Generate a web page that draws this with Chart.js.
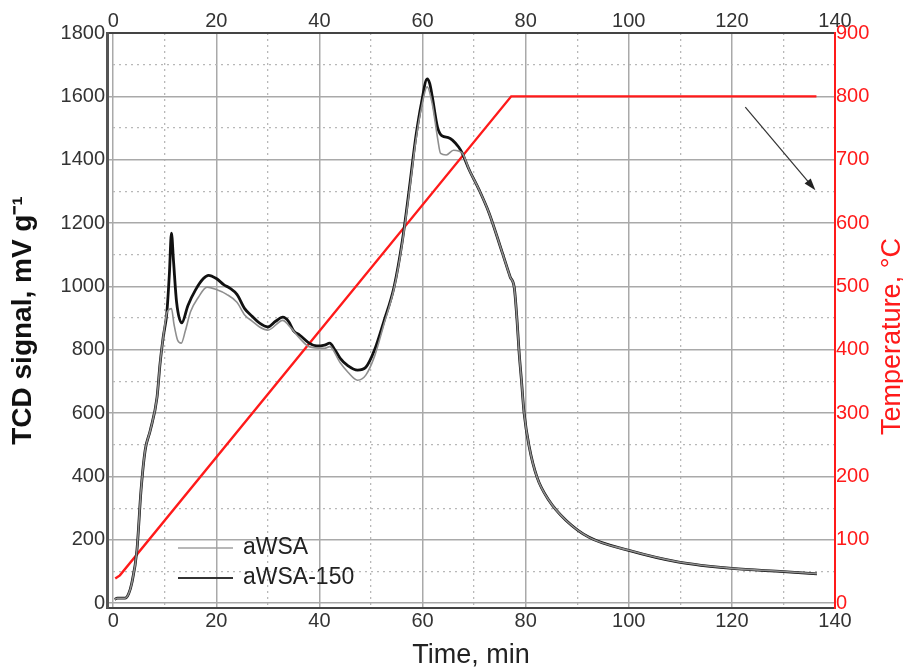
<!DOCTYPE html>
<html>
<head>
<meta charset="utf-8">
<script src="https://cdn.jsdelivr.net/npm/chart.js@4.4.1/dist/chart.umd.min.js"></script>
<style>
  body { margin: 0; background: #fff; }
  #wrap { width: 903px; height: 671px; }
</style>
</head>
<body>
<div id="wrap"><canvas id="tpd"></canvas></div>
<script>
// aWSA-150 (black curve)
const timeA150 = [0.3, 0.8, 2.3, 3.0, 3.6, 4.6, 5.4, 6.2, 7.2, 8.5, 9.1, 9.7, 10.4, 10.9, 11.3, 11.7, 12.3, 13.3,
  14.5, 16, 17.5, 18.5, 20, 21.5, 22.6, 24, 25.5, 27, 28.4, 30, 31.5, 32.9, 34, 35, 36.2, 38, 39.5, 41, 42, 43, 44,
  45.5, 47.4, 49, 50.7, 52.5, 54.5, 56.1, 57.4, 58.7, 59.8, 60.9, 61.4, 61.9, 62.9, 63.8, 65, 65.8, 67, 67.7, 69,
  71, 72.9, 75.5, 77, 77.8, 78.3, 78.7, 79.2, 79.7, 80.7, 82.2, 84.5, 87.8, 92.3, 100, 109.7, 120, 130, 136.5];
const signalA150 = [12, 16, 16, 30, 63, 167, 357, 483, 546, 650, 758, 840, 916, 1040, 1168, 1080, 950, 885,
  940, 990, 1025, 1035, 1025, 1005, 995, 975, 930, 905, 884, 872, 890, 903, 890, 860, 846, 821, 812, 815, 821, 800, 774,
  750, 736, 745, 800, 890, 1000, 1146, 1304, 1472, 1580, 1655, 1640, 1598, 1503, 1475, 1470, 1462, 1440, 1421, 1370,
  1304, 1232, 1105, 1030, 995, 900, 799, 700, 600, 493, 398, 325, 262, 208, 167, 130, 110, 100, 93];

// aWSA (grey curve)
const timeA = [0.3, 0.8, 2.3, 3.0, 3.6, 4.6, 5.4, 6.2, 7.2, 8.5, 9.1, 9.7, 10.4, 10.7, 11.3, 11.8, 12.5, 13.2, 14,
  15, 16.5, 18.2, 20, 22, 24, 25.5, 27, 28.4, 30, 32.9, 34, 36.2, 38, 41, 42, 44, 45.5, 47.4, 49, 50.7, 52.5, 54.5,
  56.1, 57.4, 58.7, 59.8, 60.9, 61.9, 62.9, 63.5, 64.6, 66, 67.7, 69, 71, 72.9, 75.5, 77, 77.8, 78.3, 78.7, 79.2,
  79.7, 80.7, 82.2, 84.5, 87.8, 92.3, 100, 109.7, 120, 130, 136.5];
const signalA = [12, 16, 16, 30, 63, 167, 357, 483, 546, 650, 758, 840, 916, 925, 930, 880, 830, 821, 860,
  920, 965, 998, 990, 975, 950, 910, 890, 872, 862, 893, 878, 836, 810, 805, 810, 760, 730, 704, 720, 780, 880, 995,
  1140, 1295, 1460, 1565, 1630, 1575, 1470, 1420, 1415, 1430, 1421, 1370, 1304, 1232, 1105, 1030, 995, 900, 799, 700,
  600, 493, 398, 325, 262, 208, 167, 130, 110, 100, 93];

// heating programme
const timeTemp = [0.4, 1.3, 77.2, 136.4];
const tempC = [39, 44, 800, 800];

// tick values
const timeTicks = [0, 20, 40, 60, 80, 100, 120, 140];
const timeMinor = [10, 30, 50, 70, 90, 110, 130];
const signalTicks = [0, 200, 400, 600, 800, 1000, 1200, 1400, 1600, 1800];
const signalMinor = [100, 300, 500, 700, 900, 1100, 1300, 1500, 1700];
const tempTicks = [0, 100, 200, 300, 400, 500, 600, 700, 800, 900];

// arrow towards the temperature axis (time, °C)
const arrowFrom = [122.6, 783];
const arrowTo = [136.2, 652];

const FONT = "'Liberation Sans', Arial, Helvetica, sans-serif";
const toXY = (xs, ys) => xs.map((x, i) => ({ x: x, y: ys[i] }));
const useTicks = vals => s => { s.ticks = vals.map(v => ({ value: v })); };

const tickFont = { family: FONT, size: 20 };
const majorGrid = '#a9a9a9';
const minorGrid = '#b8b8b8';
const RED = '#ff1a1a';

// legend drawn inside the plot, lower left
const innerLegend = {
  id: 'innerLegend',
  afterDatasetsDraw(chart) {
    const { ctx, chartArea } = chart;
    const items = chart.data.datasets.filter(d => d.inLegend);
    ctx.save();
    ctx.font = '23px ' + FONT;
    ctx.textBaseline = 'middle';
    items.forEach((d, i) => {
      const y = chartArea.bottom - 60 + i * 30;
      const x0 = chartArea.left + 71;
      ctx.strokeStyle = d.legendColor;
      ctx.lineWidth = d.legendWidth;
      ctx.beginPath();
      ctx.moveTo(x0, y);
      ctx.lineTo(x0 + 55, y);
      ctx.stroke();
      ctx.fillStyle = '#222';
      ctx.fillText(d.label, x0 + 65, y);
    });
    ctx.restore();
  }
};

// arrow + right axis title (reads bottom to top)
const extras = {
  id: 'extras',
  afterDraw(chart) {
    const { ctx, chartArea, scales } = chart;
    const x1 = scales.x.getPixelForValue(arrowFrom[0]);
    const y1 = scales.y2.getPixelForValue(arrowFrom[1]);
    const x2 = scales.x.getPixelForValue(arrowTo[0]);
    const y2 = scales.y2.getPixelForValue(arrowTo[1]);
    const ang = Math.atan2(y2 - y1, x2 - x1);
    ctx.save();
    ctx.strokeStyle = '#333';
    ctx.fillStyle = '#222';
    ctx.lineWidth = 1.2;
    ctx.beginPath();
    ctx.moveTo(x1, y1);
    ctx.lineTo(x2 - 8 * Math.cos(ang), y2 - 8 * Math.sin(ang));
    ctx.stroke();
    ctx.beginPath();
    ctx.moveTo(x2, y2);
    ctx.lineTo(x2 - 12 * Math.cos(ang) + 4 * Math.sin(ang), y2 - 12 * Math.sin(ang) - 4 * Math.cos(ang));
    ctx.lineTo(x2 - 12 * Math.cos(ang) - 4 * Math.sin(ang), y2 - 12 * Math.sin(ang) + 4 * Math.cos(ang));
    ctx.closePath();
    ctx.fill();

    ctx.translate(chart.width - 10, (chartArea.top + chartArea.bottom) / 2 + 16);
    ctx.rotate(-Math.PI / 2);
    ctx.font = '27px ' + FONT;
    ctx.fillStyle = RED;
    ctx.textAlign = 'center';
    ctx.textBaseline = 'middle';
    ctx.fillText('Temperature, °C', 0, 0);
    ctx.restore();
  }
};

new Chart(document.getElementById('tpd'), {
  type: 'line',
  data: {
    datasets: [
      {
        label: 'aWSA',
        data: toXY(timeA, signalA),
        borderColor: '#8f8f8f',
        borderWidth: 1.6,
        yAxisID: 'y',
        cubicInterpolationMode: 'monotone',
        inLegend: true,
        legendColor: '#a0a0a0',
        legendWidth: 1.3,
      },
      {
        label: 'aWSA-150',
        data: toXY(timeA150, signalA150),
        borderColor: '#111',
        borderWidth: 2.8,
        yAxisID: 'y',
        cubicInterpolationMode: 'monotone',
        inLegend: true,
        legendColor: '#333',
        legendWidth: 2,
      },
      {
        label: 'Temperature',
        data: toXY(timeTemp, tempC),
        borderColor: RED,
        borderWidth: 2.4,
        yAxisID: 'y2',
        tension: 0,
      },
    ],
  },
  options: {
    responsive: true,
    maintainAspectRatio: false,
    animation: false,
    layout: { padding: 0 },
    elements: {
      point: { radius: 0 },
      line: { fill: false },
    },
    plugins: {
      legend: { display: false },
      tooltip: { enabled: false },
    },
    scales: {
      x: {
        type: 'linear',
        position: 'bottom',
        min: -1.2,
        max: 140,
        afterBuildTicks: useTicks(timeTicks),
        afterFit: s => { s.height = 63; },
        ticks: { autoSkip: false, maxRotation: 0, padding: 1, color: '#333', font: tickFont, callback: v => String(v) },
        grid: { color: majorGrid, lineWidth: 1.5, drawTicks: false },
        border: { color: '#444', width: 2 },
        title: {
          display: true,
          text: 'Time, min',
          color: '#222',
          font: { family: FONT, size: 27, lineHeight: 1 },
          padding: { top: 0, bottom: 2 },
        },
      },
      xTop: {
        type: 'linear',
        position: 'top',
        min: -1.2,
        max: 140,
        afterBuildTicks: useTicks(timeTicks),
        afterFit: s => { s.height = 33; },
        ticks: { autoSkip: false, maxRotation: 0, padding: 0, color: '#333', font: tickFont, callback: v => String(v) },
        grid: { drawOnChartArea: false, drawTicks: false },
        border: { color: '#444', width: 2 },
      },
      xMinor: {
        type: 'linear',
        position: 'bottom',
        min: -1.2,
        max: 140,
        afterBuildTicks: useTicks(timeMinor),
        afterFit: s => { s.height = 0; },
        ticks: { display: false, autoSkip: false },
        grid: { color: minorGrid, lineWidth: 1.3, drawTicks: false },
        border: { display: false, dash: [2, 4] },
      },
      y: {
        type: 'linear',
        position: 'left',
        min: -15,
        max: 1800,
        afterBuildTicks: useTicks(signalTicks),
        afterFit: s => { s.width = 107; },
        ticks: { autoSkip: false, padding: 2, color: '#333', font: tickFont, callback: v => String(v) },
        grid: { color: majorGrid, lineWidth: 1.5, drawTicks: false },
        border: { color: '#555', width: 3 },
        title: {
          display: true,
          text: 'TCD signal, mV g⁻¹',
          color: '#111',
          font: { family: FONT, size: 28, weight: 'bold', lineHeight: 1 },
          padding: { top: 9, bottom: 0 },
        },
      },
      yMinor: {
        type: 'linear',
        position: 'left',
        min: -15,
        max: 1800,
        afterBuildTicks: useTicks(signalMinor),
        afterFit: s => { s.width = 0; },
        ticks: { display: false, autoSkip: false },
        grid: { color: minorGrid, lineWidth: 1.3, drawTicks: false },
        border: { display: false, dash: [2, 4] },
      },
      y2: {
        type: 'linear',
        position: 'right',
        min: -7.5,
        max: 900,
        afterBuildTicks: useTicks(tempTicks),
        afterFit: s => { s.width = 68; },
        ticks: { autoSkip: false, padding: 1, color: RED, font: tickFont, callback: v => String(v) },
        grid: { drawOnChartArea: false, drawTicks: false },
        border: { color: RED, width: 2 },
      },
    },
  },
  plugins: [innerLegend, extras],
});
</script>
</body>
</html>
